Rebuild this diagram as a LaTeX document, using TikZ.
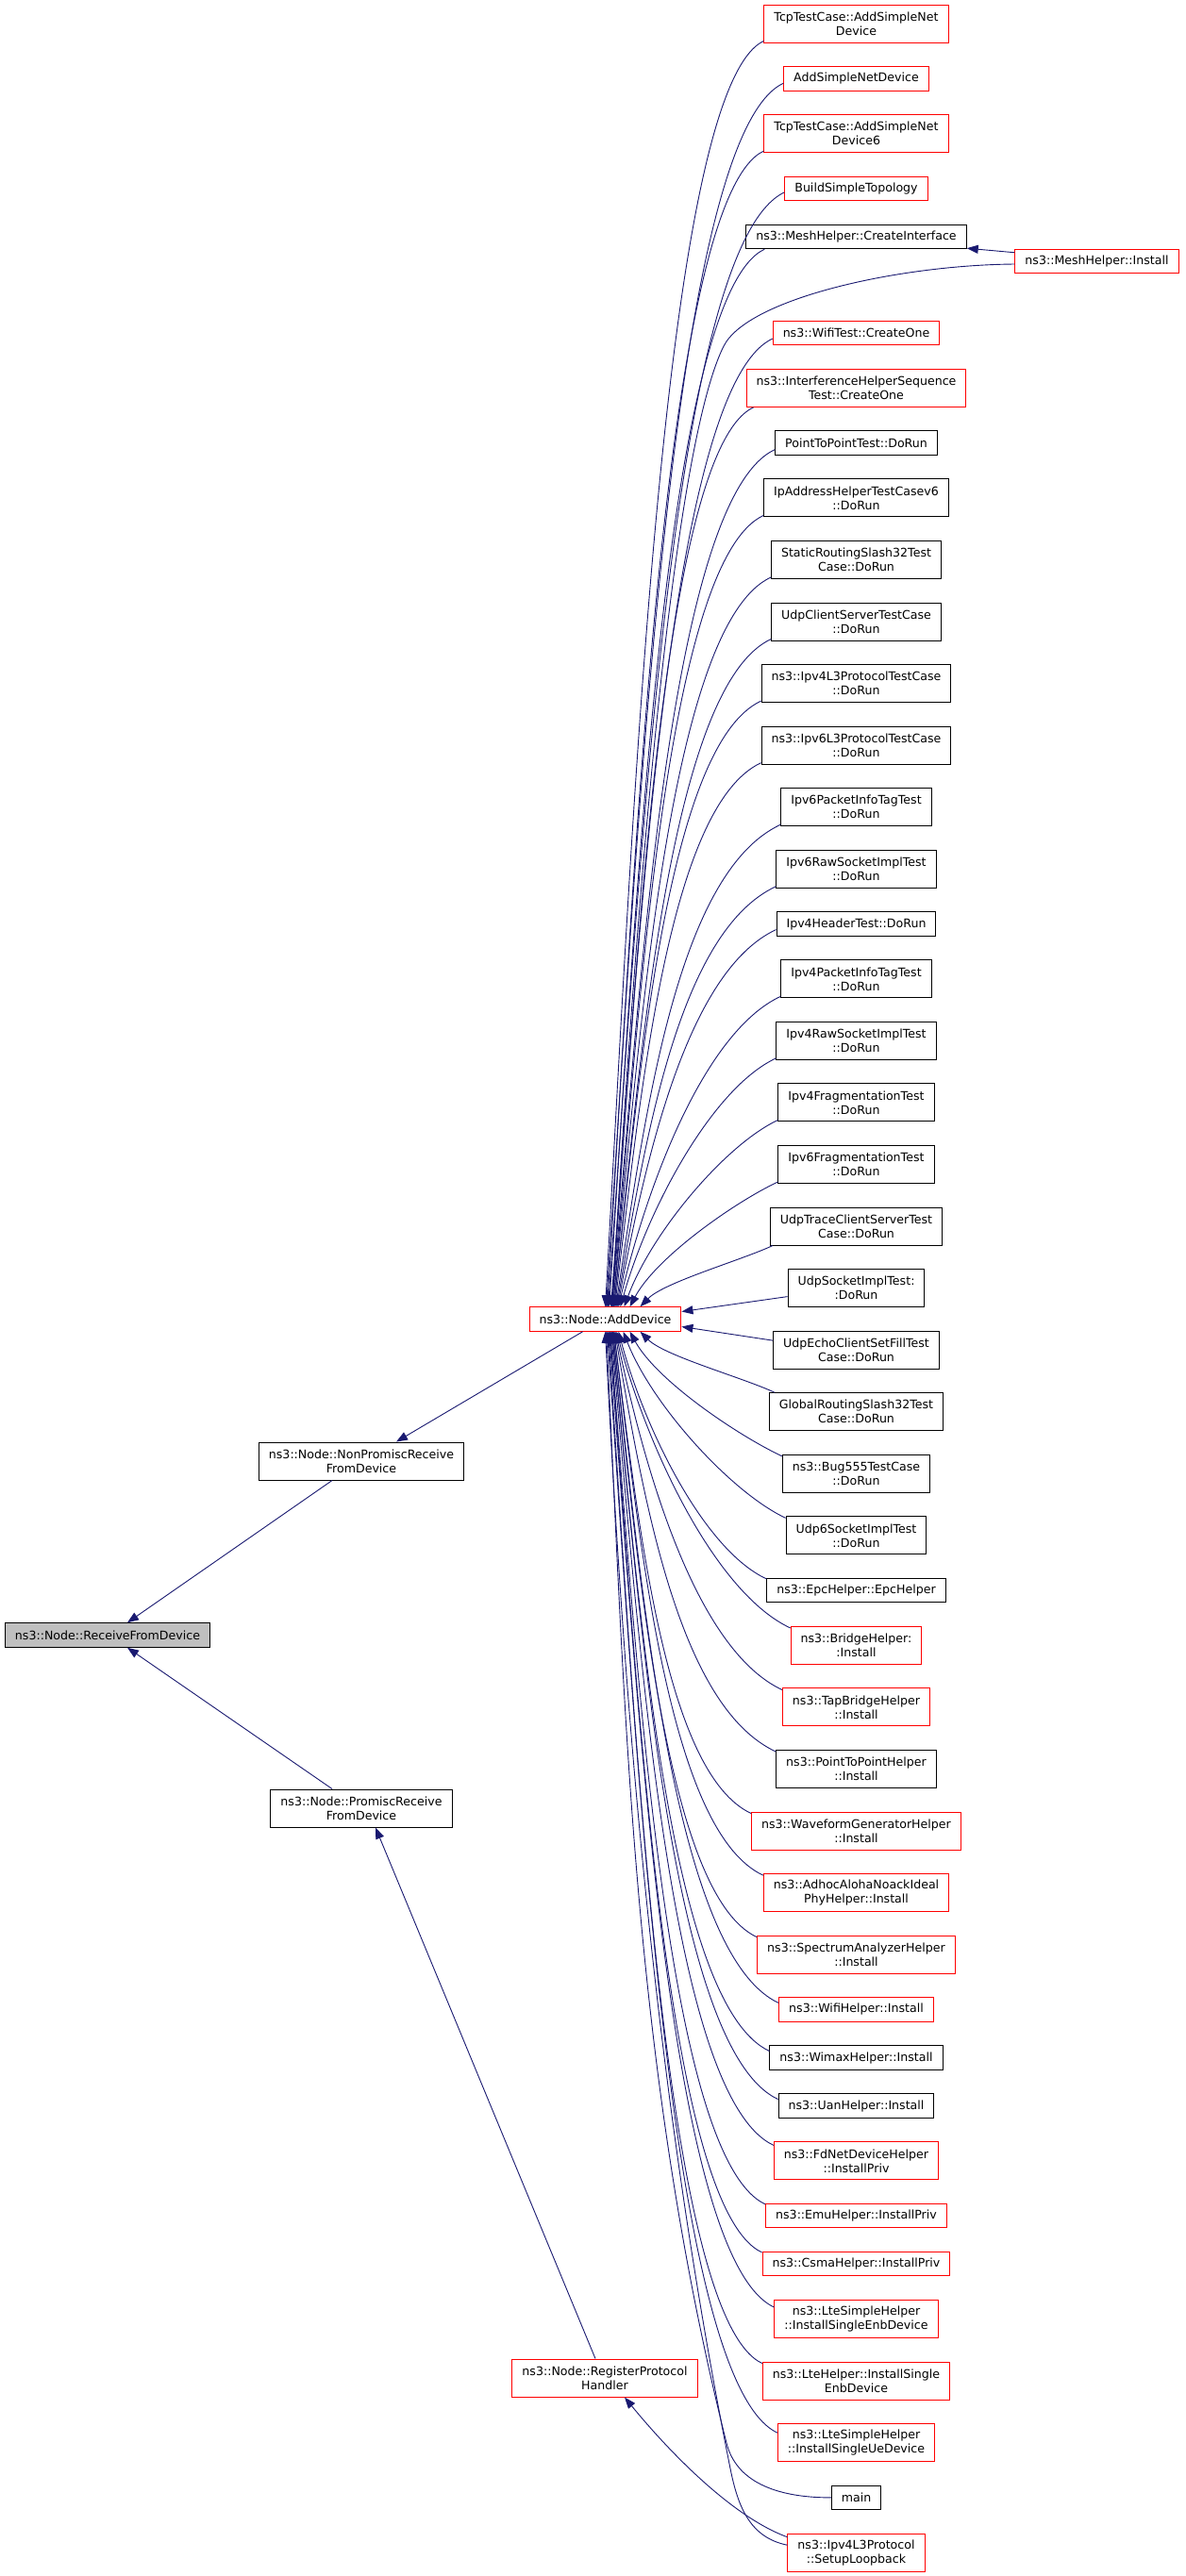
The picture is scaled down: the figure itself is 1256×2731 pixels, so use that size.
\documentclass[tikz,border=0pt]{standalone}
\usepackage{fontspec}
\setmainfont{DejaVu Sans}
\usetikzlibrary{arrows.meta,calc}
\definecolor{edgeblue}{HTML}{191970}
\definecolor{rootgray}{HTML}{BFBFBF}
\definecolor{nodered}{HTML}{FF0000}
% arc connector from a right-column node into ns3::Node::AddDevice
\newcommand\arcedge[2]{\draw[calledge] let \p1=(#1), \p2=(#2), \n1={\x1-\x2}, \n2={\y1-\y2},
  \n3={min(0.24*veclen(\n1,\n2),0.7*\n1)}, \n4={\n2/abs(\n2)} in
  (\p1) .. controls ({\x1-0.9*\n3},{\y1-0.42*\n3*\n4}) and ({\x2+0.18*\n1},{\y2+0.4*\n2}) .. (\p2);}
\begin{document}
\begin{tikzpicture}[x=1pt,y=-1pt,
  box/.style={draw, rectangle, line width=1pt, inner xsep=10.5pt, inner ysep=0pt, minimum height=25.5pt, align=center, font=\fontsize{12.6}{15}\selectfont, text=black},
  twoline/.style={minimum height=40pt},
  rbox/.style={box, draw=nodered},
  bbox/.style={box, draw=black},
  rootbox/.style={box, draw=black, fill=rootgray},
  calledge/.style={draw=edgeblue, line width=0.9pt, -{Triangle[length=12pt,width=9pt,fill=edgeblue]}},
]
\useasboundingbox (0,0) rectangle (1256,2731);

% left part
\node[rootbox] (rfd) at (114,1733.5) {ns3::Node::ReceiveFromDevice};
\node[bbox,twoline] (npr) at (383,1549) {ns3::Node::NonPromiscReceive\\FromDevice};
\node[bbox,twoline] (pr) at (383,1917) {ns3::Node::PromiscReceive\\FromDevice};
\node[rbox] (ad) at (641.5,1398.5) {ns3::Node::AddDevice};
\node[rbox,twoline] (rp) at (641,2521) {ns3::Node::RegisterProtocol\\Handler};
\node[rbox] (mi) at (1162.5,277) {ns3::MeshHelper::Install};

% right column
\node[rbox,twoline] (n1) at (907.5,25) {TcpTestCase::AddSimpleNet\\Device};
\node[rbox] (n2) at (907.5,83.3) {AddSimpleNetDevice};
\node[rbox,twoline] (n3) at (907.5,141.6) {TcpTestCase::AddSimpleNet\\Device6};
\node[rbox] (n4) at (907.5,199.9) {BuildSimpleTopology};
\node[bbox] (n5) at (907.5,250.95) {ns3::MeshHelper::CreateInterface};
\node[rbox] (n7) at (907.5,353.05) {ns3::WifiTest::CreateOne};
\node[rbox,twoline] (n8) at (907.5,411.35) {ns3::InterferenceHelperSequence\\Test::CreateOne};
\node[bbox] (n9) at (907.5,469.65) {PointToPointTest::DoRun};
\node[bbox,twoline] (n10) at (907.5,527.95) {IpAddressHelperTestCasev6\\::DoRun};
\node[bbox,twoline] (n11) at (907.5,593.5) {StaticRoutingSlash32Test\\Case::DoRun};
\node[bbox,twoline] (n12) at (907.5,659.05) {UdpClientServerTestCase\\::DoRun};
\node[bbox,twoline] (n13) at (907.5,724.6) {ns3::Ipv4L3ProtocolTestCase\\::DoRun};
\node[bbox,twoline] (n14) at (907.5,790.15) {ns3::Ipv6L3ProtocolTestCase\\::DoRun};
\node[bbox,twoline] (n15) at (907.5,855.7) {Ipv6PacketInfoTagTest\\::DoRun};
\node[bbox,twoline] (n16) at (907.5,921.25) {Ipv6RawSocketImplTest\\::DoRun};
\node[bbox] (n17) at (907.5,979.55) {Ipv4HeaderTest::DoRun};
\node[bbox,twoline] (n18) at (907.5,1037.85) {Ipv4PacketInfoTagTest\\::DoRun};
\node[bbox,twoline] (n19) at (907.5,1103.4) {Ipv4RawSocketImplTest\\::DoRun};
\node[bbox,twoline] (n20) at (907.5,1168.95) {Ipv4FragmentationTest\\::DoRun};
\node[bbox,twoline] (n21) at (907.5,1234.5) {Ipv6FragmentationTest\\::DoRun};
\node[bbox,twoline] (n22) at (907.5,1300.05) {UdpTraceClientServerTest\\Case::DoRun};
\node[bbox,twoline] (n23) at (907.5,1365.6) {UdpSocketImplTest:\\:DoRun};
\node[bbox,twoline] (n24) at (907.5,1431.15) {UdpEchoClientSetFillTest\\Case::DoRun};
\node[bbox,twoline] (n25) at (907.5,1496.7) {GlobalRoutingSlash32Test\\Case::DoRun};
\node[bbox,twoline] (n26) at (907.5,1562.25) {ns3::Bug555TestCase\\::DoRun};
\node[bbox,twoline] (n27) at (907.5,1627.8) {Udp6SocketImplTest\\::DoRun};
\node[bbox] (n28) at (907.5,1686.1) {ns3::EpcHelper::EpcHelper};
\node[rbox,twoline] (n29) at (907.5,1744.4) {ns3::BridgeHelper:\\:Install};
\node[rbox,twoline] (n30) at (907.5,1809.95) {ns3::TapBridgeHelper\\::Install};
\node[bbox,twoline] (n31) at (907.5,1875.5) {ns3::PointToPointHelper\\::Install};
\node[rbox,twoline] (n32) at (907.5,1941.05) {ns3::WaveformGeneratorHelper\\::Install};
\node[rbox,twoline] (n33) at (907.5,2006.6) {ns3::AdhocAlohaNoackIdeal\\PhyHelper::Install};
\node[rbox,twoline] (n34) at (907.5,2072.15) {ns3::SpectrumAnalyzerHelper\\::Install};
\node[rbox] (n35) at (907.5,2130.45) {ns3::WifiHelper::Install};
\node[bbox] (n36) at (907.5,2181.5) {ns3::WimaxHelper::Install};
\node[bbox] (n37) at (907.5,2232.55) {ns3::UanHelper::Install};
\node[rbox,twoline] (n38) at (907.5,2290.85) {ns3::FdNetDeviceHelper\\::InstallPriv};
\node[rbox] (n39) at (907.5,2349.15) {ns3::EmuHelper::InstallPriv};
\node[rbox] (n40) at (907.5,2400.2) {ns3::CsmaHelper::InstallPriv};
\node[rbox,twoline] (n41) at (907.5,2458.5) {ns3::LteSimpleHelper\\::InstallSingleEnbDevice};
\node[rbox,twoline] (n42) at (907.5,2524.05) {ns3::LteHelper::InstallSingle\\EnbDevice};
\node[rbox,twoline] (n43) at (907.5,2589.6) {ns3::LteSimpleHelper\\::InstallSingleUeDevice};
\node[bbox] (n44) at (907.5,2647.9) {main};
\node[rbox,twoline] (n45) at (907.5,2706.2) {ns3::Ipv4L3Protocol\\::SetupLoopback};

% left edges
\draw[calledge] ($(ad.south west)+(57,0)$) -- ($(npr.north)+(37,0)$);
\draw[calledge] ($(npr.south)+(-31,0)$) -- ($(rfd.north)+(21,0)$);
\draw[calledge] ($(pr.north)+(-31,0)$) -- ($(rfd.south)+(21,0)$);
\draw[calledge] ($(rp.north)+(-10,0)$) -- ($(pr.south)+(15,0)$);
\draw[calledge] ($(n45.north west)+(0,4)$) .. controls +(-60,-22) and +(45,55) .. ($(rp.south)+(21,0)$);

% mesh edges
\draw[calledge] ($(mi.north west)+(0,4)$) -- ($(n5.south east)+(0,-1)$);
\coordinate (meshbend) at (767,367);
\draw[calledge] ($(mi.west)+(0,3)$) .. controls +(-125,1) and +(25,-50) .. (meshbend)
  .. controls +(-60,120) and +(20,-330) .. ($(ad.north west)+(88,0)$);

% upper edges
\arcedge{$(n1.south west)+(0,-2)$}{$(ad.north west)+(81,0)$}
\arcedge{$(n2.west)+(0,5)$}{$(ad.north west)+(82,0)$}
\arcedge{$(n3.south west)+(0,-2)$}{$(ad.north west)+(83,0)$}
\arcedge{$(n4.west)+(0,4)$}{$(ad.north west)+(84,0)$}
\arcedge{$(n5.south west)+(20,0)$}{$(ad.north west)+(85,0)$}
\arcedge{$(n7.west)+(0,6)$}{$(ad.north west)+(87,0)$}
\arcedge{$(n8.south west)+(8,0)$}{$(ad.north west)+(88,0)$}
\arcedge{$(n9.west)+(0,7)$}{$(ad.north west)+(88,0)$}
\arcedge{$(n10.south west)+(0,-2)$}{$(ad.north west)+(89,0)$}
\arcedge{$(n11.south west)+(0,-2)$}{$(ad.north west)+(89,0)$}
\arcedge{$(n12.south west)+(0,-2)$}{$(ad.north west)+(90,0)$}
\arcedge{$(n13.south west)+(0,-2)$}{$(ad.north west)+(90,0)$}
\arcedge{$(n14.south west)+(0,-2)$}{$(ad.north west)+(91,0)$}
\arcedge{$(n15.south west)+(0,-2)$}{$(ad.north west)+(92,0)$}
\arcedge{$(n16.south west)+(0,-2)$}{$(ad.north west)+(93,0)$}
\arcedge{$(n17.west)+(0,6)$}{$(ad.north west)+(94,0)$}
\arcedge{$(n18.south west)+(0,-2)$}{$(ad.north west)+(95,0)$}
\arcedge{$(n19.south west)+(0,-2)$}{$(ad.north west)+(97,0)$}
\arcedge{$(n20.south west)+(0,-2)$}{$(ad.north west)+(101,0)$}
\arcedge{$(n21.south west)+(0,-2)$}{$(ad.north west)+(107,0)$}
\arcedge{$(n22.south west)+(3,0)$}{$(ad.north west)+(118,0)$}
\draw[calledge] ($(n23.west)+(0,9)$) -- ($(ad.east)+(0,-8)$);
\draw[calledge] ($(n24.west)+(0,-10)$) -- ($(ad.east)+(0,8)$);

% lower edges
\arcedge{$(n25.north west)+(6,0)$}{$(ad.south west)+(118,0)$}
\arcedge{$(n26.north west)+(0,2)$}{$(ad.south west)+(107,0)$}
\arcedge{$(n27.north west)+(0,2)$}{$(ad.south west)+(100,0)$}
\arcedge{$(n28.north west)+(0,1)$}{$(ad.south west)+(95,0)$}
\arcedge{$(n29.north west)+(0,2)$}{$(ad.south west)+(93,0)$}
\arcedge{$(n30.north west)+(0,2)$}{$(ad.south west)+(92,0)$}
\arcedge{$(n31.north west)+(0,2)$}{$(ad.south west)+(91,0)$}
\arcedge{$(n32.north west)+(0,2)$}{$(ad.south west)+(90,0)$}
\arcedge{$(n33.north west)+(0,2)$}{$(ad.south west)+(90,0)$}
\arcedge{$(n34.north west)+(0,2)$}{$(ad.south west)+(89,0)$}
\arcedge{$(n35.west)+(0,-7)$}{$(ad.south west)+(89,0)$}
\arcedge{$(n36.west)+(0,-7)$}{$(ad.south west)+(88,0)$}
\arcedge{$(n37.west)+(0,-7)$}{$(ad.south west)+(88,0)$}
\arcedge{$(n38.north west)+(0,4)$}{$(ad.south west)+(87,0)$}
\arcedge{$(n39.north west)+(0,1)$}{$(ad.south west)+(86,0)$}
\arcedge{$(n40.north west)+(0,1)$}{$(ad.south west)+(86,0)$}
\arcedge{$(n41.north west)+(0,8)$}{$(ad.south west)+(85,0)$}
\arcedge{$(n42.north west)+(0,2)$}{$(ad.south west)+(84,0)$}
\arcedge{$(n43.north west)+(0,10)$}{$(ad.south west)+(83,0)$}
\coordinate (mainbend) at (770,2590);
\draw[calledge] (n44.west) .. controls +(-60,0) and +(10,40) .. (mainbend)
  .. controls +(-100,-400) and +(20,400) .. ($(ad.south west)+(82,0)$);
\coordinate (slbend) at (774,2617);
\draw[calledge] ($(n45.west)+(0,-8)$) .. controls +(-40,-8) and +(8,40) .. (slbend)
  .. controls +(-80,-400) and +(20,400) .. ($(ad.south west)+(81,0)$);
\end{tikzpicture}
\end{document}
